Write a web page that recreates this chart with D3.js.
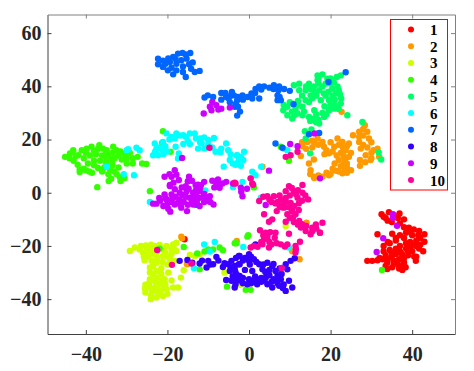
<!DOCTYPE html>
<html><head><meta charset="utf-8">
<script src="https://cdnjs.cloudflare.com/ajax/libs/d3/7.8.5/d3.min.js"></script>
<style>html,body{margin:0;background:#fff}svg{display:block}text{font-family:"Liberation Serif",serif;font-weight:bold}</style>
</head><body><svg id="c" width="474" height="371"></svg>
<script>
const xTicks=[-40,-20,0,20,40];
const yTicks=[-40,-20,0,20,40,60];
const labels=["1","2","3","4","5","6","7","8","9","10"];
const colors=["#ff0000","#ff9900","#ccff00","#33ff00","#00ff66","#00ffff","#0066ff","#3300ff","#cc00ff","#ff0099"];
const c1=[[29,-25.6],[30.2,-25.6],[31.5,-25.4],[32.7,-25],[33.9,-26.2],[35.1,-28],[33.9,-28.7],[35.5,-26.2],[37.6,-29],[38.4,-28],[38,-26.2],[36.8,-25],[40.9,-25.6],[41,-24],[42.7,-22],[41.7,-21],[43,-18.4],[43,-15.6],[41.7,-14.4],[40.4,-13.8],[39.2,-13.1],[38,-10],[36.9,-7.8],[34.3,-7.3],[32.5,-8.1],[31.5,-15.6],[35.1,-15.4],[33.5,-9.5],[35,-11],[37,-11.5],[34,-10.5],[38.5,-15],[38,-17],[40,-16],[41,-18],[39.5,-18.5],[42,-17],[41,-20],[40,-22],[38.5,-21],[37,-20],[36,-18],[34,-18.5],[33,-20],[33,-22],[34.5,-21.5],[36,-23],[37.5,-23],[39,-23.5],[35,-24],[33.5,-23.5],[32,-24.5],[36.5,-27],[38,-24.5],[34.5,-19],[37,-16],[39.5,-20.5],[-15.8,-17.5],[17.4,-15],[39.5,-14.5],[41.5,-16],[40.5,-19.5],[38.5,-19],[37,-22],[35,-22.5],[36,-21],[34,-25],[35.5,-25.5],[37.5,-27.5],[36.5,-9.5],[35.5,-8.5],[33,-9],[36,-17],[38,-13],[42,-19.5],[39,-22],[40.5,-24],[33.5,-27.5],[36.8,-28.5]];
const c2=[[13.1,17.5],[14.3,19.1],[15.5,19.6],[16.8,20.4],[18,19.1],[18.4,17.3],[19,16],[19.6,14.8],[20.9,17.3],[21.7,20.4],[22.9,19.1],[24.5,18.5],[23.7,16],[24.5,13.5],[23.3,11],[25,8.5],[22.9,7.3],[21.3,8.3],[19.6,6.6],[18,6],[15.9,6],[15.1,8.5],[14.7,11],[15.9,12.5],[22,12.3],[23.3,13.5],[25.5,21.6],[27,22.9],[28.4,25.4],[29,22.9],[29.4,20.4],[27,19.1],[27.4,16.6],[28.6,14.1],[29.8,12.3],[31.5,16.6],[31.9,13.5],[27.2,12.3],[27.2,10.1],[12.7,13.8],[22.7,30.4],[3.3,9.8],[23,17],[22.5,15],[24,11],[21,11],[20.5,9],[23.5,9],[30,15],[28,18],[15.5,17],[17,18],[14.1,-11.3],[12.4,-25],[-3,-18.1],[-16.4,-17.1],[-16.6,-16.5],[-15.2,-26.9],[10.6,-22],[15,7],[17,6.5],[16,5.5],[19,7.5],[20,7],[22,8],[24,7.5],[24,9.5],[22.5,10],[23.5,12.5],[25,15],[24,17.5],[22,18],[20,19],[20.5,15.5],[21.5,14],[23,14.5],[27,21],[28,21.5],[28,24],[30,19],[29,17],[30,13],[28.5,11.5],[30.5,16],[14,16.5],[16,18.5],[13,19],[18.5,14.5]];
const c3=[[-29.2,-21.9],[-28,-20.6],[-26.8,-21.3],[-25.3,-19.8],[-26,-22.5],[-25.6,-25.4],[-23.9,-21.3],[-22.7,-23.1],[-23.1,-20],[-21.9,-19.6],[-20.2,-20],[-18.6,-19.4],[-17.8,-18.8],[-19,-21.3],[-17.8,-21.9],[-21.1,-23.8],[-19.4,-25],[-18.2,-25.6],[-21.5,-28.4],[-24.3,-28.1],[-24.3,-30],[-19.8,-30],[-20.7,-32.5],[-22.7,-31.9],[-24.3,-32.5],[-25.4,-34.6],[-24.3,-35.6],[-25.4,-37.5],[-24.1,-40],[-22.7,-39.4],[-21.1,-38.8],[-20.2,-36.3],[-18.6,-35.6],[-17.4,-35.6],[-16.7,-31.9],[-16,-29.1],[-23,-35.5],[-21.8,-37],[-23,-33.5],[-21.8,-34],[-24,-38.5],[-22.7,-37],[-24.7,-23.8],[-23.9,-25.6],[-22.7,-26.3],[-24.7,-22],[-20.5,-22.5],[-21.5,-33],[-20.5,-34.5],[-23.5,-30.5],[-14.5,-23.4],[-13.3,-23.8],[-12.1,-23.1],[-6,-30],[-2.2,-34.6],[9,-12.5],[-25,-21],[-25.8,-24],[-23.5,-23],[-22.5,-21.5],[-21,-21.5],[-20,-24],[-19,-23],[-22.5,-24.8],[-21.2,-26],[-20,-27],[-22.7,-29.5],[-21.5,-30.5],[-23.5,-27.5],[-24.5,-34],[-23.8,-36.8],[-22.5,-35],[-21,-35.8],[-20,-38],[-25.5,-36],[-22.2,-38.2],[-19,-33],[-18.5,-20.5],[-24,-19.5],[-26.5,-20]];
const c4=[[-45.1,13.5],[-43.9,14.8],[-43.1,16],[-41.9,14.1],[-41,16],[-39.8,16.6],[-38.6,17.3],[-36.7,17.9],[-35.8,16.6],[-34.9,16],[-33.3,17.3],[-32.5,16],[-31.5,15.5],[-30.5,14.5],[-29.2,15],[-28.5,13],[-27.3,13.5],[-28.5,11],[-26.2,11],[-25.2,10.8],[-30,11],[-31.2,12.5],[-33,13],[-34.5,13.5],[-36,14],[-37.5,14.5],[-39,14],[-40.5,13],[-43,12],[-42,10.5],[-41.5,8.8],[-41.5,7.8],[-40,8.5],[-38.5,7.5],[-37,9.3],[-35.5,9.5],[-33.5,10.3],[-32,9.5],[-33,8],[-34.5,7],[-33.8,5.3],[-31.7,6],[-30.5,5.5],[-33.5,12],[-36.5,12],[-38,12],[-39.5,11],[-38,10.3],[-35,11.3],[-37.2,2.1],[-24.3,.6],[-34.4,4.4],[-31.5,4.4],[-21.9,-21],[-16,-20.4],[-12.7,-22.8],[-12.1,-28.8],[-10.9,-22.1],[-10,-21.3],[-8.8,-21.3],[-7.2,-20.6],[-6.4,-21.6],[-3.5,-19],[-5.4,-35.3],[-.8,-36.5],[.4,-36.5],[-.2,-16],[-.4,-16.5],[-3.1,-19],[32.6,-29],[9.8,12],[7.8,17.3],[1.2,2],[-21.1,23.1],[-21.3,18.8],[-19.2,15.4],[-44,13],[-42.5,13.8],[-40,15],[-38,15.8],[-37,16.5],[-35,15],[-33.5,15],[-32,14],[-30,13],[-40.5,9],[-39.2,8],[-36,8],[-34,8.5],[-32.5,7],[-35,12.5]];
const c5=[[8.4,31],[9.4,29.1],[10.6,27.9],[11.9,29.8],[13.1,29.1],[14.7,28.5],[15.9,27.9],[17.2,26],[16.4,26.6],[18.4,28.5],[19.6,31],[20.9,31.6],[22.5,33.5],[22.6,35.4],[21.3,37.3],[20.4,39.1],[18.8,41],[16.8,44.1],[18,44.5],[19.2,42.9],[22.5,44.1],[21.7,40],[15.9,40],[14.7,41],[12.3,41],[11,40.4],[12.3,38.5],[13.9,38.5],[15.1,36.6],[13.9,34.8],[14.7,34.1],[13.1,32.3],[11.4,31.6],[9.4,32.3],[17.6,34.8],[19.6,34.8],[18.4,37.3],[17.2,38.5],[24.1,29.1],[27.8,26.6],[13.7,23.1],[15.3,23.8],[13.9,20.4],[15,14.8],[31.8,15.1],[32.4,12.5],[16.8,42.3],[20,43],[19.5,38],[21,35],[20,33],[18,30],[16.5,29.5],[12,33],[8.5,33],[10.5,30.5],[14,40],[16.5,36.5],[22,38.5],[21.5,43.5],[15,27],[17,27.5],[19,29.5],[21,33],[20.5,36.5],[18,40],[17,41],[20,41],[13,36.5],[10,34],[15.5,35.5],[17,43],[18.8,36.5],[16,38],[12,34.5],[11,29],[13.5,30.5],[16,31],[22,31.5],[18.5,32.5],[15,39],[20.8,41.5],[22.3,37]];
const c6=[[-23.1,18.5],[-22.7,16.5],[-23.5,14.1],[-22.3,14.1],[-21.1,19.1],[-20.2,22.3],[-19,21],[-17.8,22.3],[-18.2,20.4],[-16.1,21.6],[-14.5,22.3],[-13.3,22.3],[-12,20.4],[-10,19.8],[-8.6,20.6],[-11.6,18.5],[-12.5,16.6],[-10.9,16.6],[-8.2,15.4],[-6.8,16.6],[-5.6,18.5],[-5.1,16],[-4.7,12.3],[-3,14],[-3,11],[-1.4,12.3],[-6.2,9.8],[-16.1,18.3],[-14.5,18.3],[-18,17.3],[-17.2,14.8],[-17.4,12.9],[-21.1,16],[-34.9,9.8],[-30.7,7],[-28.2,6.6],[-29.6,16.4],[-27.6,16.9],[-26.8,16],[-30,16],[-2.9,14.1],[-1.2,15.4],[-2.5,12.3],[-3.3,10.5],[-2,10.1],[3,9.8],[.8,7.9],[1.6,6.6],[.4,5.4],[-1.6,4.1],[9.4,16],[8.5,16.6],[-24.3,-3.5],[-11,-19.4],[-8.4,-18.5],[-9.6,-22.1],[-13.5,-28.4],[-1.4,-20.4],[6.5,-18.8],[9.8,-20.6],[2.9,-1.9],[-10.7,.9],[-3.9,2.1],[-22,17],[-21,14.5],[-20,15.5],[-19.5,20],[-15,19.5],[-13,20.5],[-11,20.8],[-10,18],[-12,19],[-9,17],[-7,15.2],[-4.5,14.5],[-4,11],[-2,13.5],[-15.5,21],[-17,21.5],[-23,15.5],[-20.5,17.5]];
const c7=[[-22.3,50.4],[-22.3,48.3],[-21.1,49.6],[-21.1,47.3],[-19.9,46],[-18.6,44.5],[-17.8,46],[-18.6,51],[-17.4,52.3],[-16.3,52.5],[-14.4,52.5],[-15.3,50.4],[-16.6,49.8],[-13.8,49],[-14.2,46.6],[-12.1,45.8],[-13.3,45.4],[-15.5,43.5],[-16.2,45.4],[-19.4,49.1],[-17.8,48.5],[-19.8,50.5],[-16.2,47.5],[-20.5,48.5],[-19,47],[-18,50.3],[-15.5,52],[-14.7,48.3],[-10.9,35.8],[-10.1,36.6],[-8.8,36],[-6.8,37.5],[-6.8,35],[-5.6,36],[-4.2,37.9],[-4.7,34],[-3.5,32.3],[-2.9,29],[-2.7,36],[-3.7,36.6],[-2.9,34.8],[-2.7,32.3],[-1.6,36.6],[-.4,36],[.6,37.3],[.8,35.4],[1.6,39],[2.5,40],[2.5,35.4],[3.7,40],[5,39.5],[6.1,40.4],[7.4,40],[8.6,39],[10,38.3],[7,36.6],[7,34.8],[7.8,34.8],[10.9,33.3],[19.5,41.6],[23.7,45.3],[14.7,22],[17.2,22.5],[6.5,18.5],[8.2,16.9],[-13,-4.5],[-5,35.5],[-3.2,33.5],[-2.2,30.5],[-1.5,35],[1.5,37.5],[3,38.8],[6,39],[7.2,38.5],[7.5,36],[-5.8,37.5],[-4.5,36.5]];
const c8=[[-17,-25.6],[-15.1,-25.3],[-13.9,-26.3],[-12.1,-26.6],[-10,-25.6],[-8,-24.1],[-10.4,-28.1],[-8.8,-26.9],[-6.4,-27.9],[-5.1,-26.9],[-4.3,-25.6],[-4.7,-29.4],[-5.6,-32.8],[-4.3,-33.1],[-3.5,-35.6],[-2.3,-23.8],[-2.3,-26.9],[-2.3,-31.3],[-3.3,-30],[-2.5,-23.8],[-2.5,-26.9],[-2.9,-31],[-3.3,-34.4],[0,-23.1],[1.2,-25],[0,-25.6],[2.5,-26.9],[4.5,-26.3],[5.7,-27.5],[6.5,-29.4],[3.3,-28.8],[.8,-29.4],[0,-32.5],[1.2,-33.1],[-.4,-34.4],[2,-34.4],[4.5,-34.4],[5.7,-35.6],[7.4,-35],[9,-36.9],[10.6,-35.6],[9.8,-33.1],[7.8,-32.5],[6,-32.5],[4.1,-31.9],[9,-26.9],[10.2,-25.6],[11.2,-24.6],[9.4,-28.8],[1.6,-19.4],[-1.5,-34],[3,-32],[7,-34],[-1,-24.5],[-2,-33],[-1.5,-25.5],[-3.5,-27.5],[-4,-31.5],[-3,-33],[1.5,-31.5],[3.5,-27],[5,-29],[5,-31],[3,-33.5],[5.5,-33.5],[8.5,-34.5],[8,-30.5],[-11.5,-25.5],[-9.5,-27],[-7.5,-25.5],[-6,-26.5],[-3.2,-24.5],[.5,-24],[7,-31],[1.8,-26],[4,-29.8],[6,-26.8],[2,-32.5],[.5,-34],[-1.5,-32],[-3.5,-28.8],[-4.5,-28],[3.8,-33],[6.5,-33],[8.3,-35.8],[-1,-29],[.2,-27],[7.5,-28.5]];
const c9=[[-18.2,8.5],[-20.7,6],[-19,6],[-17.2,4.8],[-19.4,2.9],[-14.7,6],[-15,4.3],[-13.1,2.9],[-11,4.1],[-7.6,5],[-5.6,4.1],[-7.3,2.9],[-3.9,3.5],[-9.6,32.3],[-8,32.9],[-6.8,31.6],[-11.1,29.8],[-9,34.1],[-4.7,32],[-16.4,13.1],[-19.4,2.5],[-18.2,1.3],[-20.7,-.6],[-19,-.6],[-17,0],[-15.3,.6],[-13.7,0],[-12.1,.6],[-22.7,-4.1],[-23.5,-4.1],[-21,-5],[-19.3,-7.1],[-18.2,-4.4],[-16.6,-5.6],[-15.2,-6.9],[-13.7,-4.4],[-12.1,-5],[-10.5,-3.1],[-8.7,-4.4],[-20.2,-2.5],[-17,-2.5],[-14.5,-1.9],[-12.1,-1.9],[-9.6,-1.3],[-7.2,1.9],[-8,3.4],[-16,-3.5],[-19,-3.5],[-14,-3],[-11,-3.5],[10.1,18.3],[11.9,17.5],[16.1,22.3],[17.4,5.4],[4.9,8.3],[-1.9,.4],[-2,1.9],[-1.6,-1.3],[-.5,1.5],[4.1,-4.6],[10.6,-6.3],[35.3,-8.1],[35.3,-9.4],[36.3,-12.4],[32.9,-17.1],[31.3,-22.3],[-9.2,31],[-7.5,31.3],[-19.5,7],[-17.8,6.8],[-18.5,3.8],[-16.5,2],[-15.5,2.5],[-12.5,3],[-12,1.8],[-20.5,-2],[-18,-1.5],[-15.5,-1.5],[-13,-1],[-11,-.5],[-21.8,-3],[-17.5,-3.8],[-15,-4.5],[-11,-1.5],[-6.5,3.5],[-8.5,2],[-22,-2],[-20,-4],[-18.8,-2.2],[-16.3,-.8],[-14.8,1.5],[-13.5,-2],[-12.8,-3.5],[-10.2,-1.8],[-9.5,-3.5],[-16.8,-4.5],[-19.8,-6],[-13,1],[-14,4.5],[-11.8,2.8],[-9,4.5]];
const c10=[[2.5,-3.1],[4.5,-1.3],[6.1,-1.3],[7.8,-2.5],[9.8,2.5],[9,.6],[11,.6],[13.1,2.9],[13.1,0],[14.5,-2.5],[11.9,-1.9],[10.2,-3.8],[8.6,-5.6],[9.4,-8.1],[11.4,-8.1],[12.3,-10.6],[9,-10.9],[6.8,-6.9],[3.7,-8.1],[5.7,-10],[4.9,-10.9],[12.7,-13.1],[13.9,-14.4],[15.1,-15.6],[16.4,-11.9],[18,-11.3],[17.4,-15],[15.5,-13.1],[9.8,-15.4],[2.7,-14.1],[4.1,-15],[6.5,-15],[6.3,-16.9],[3.7,-17.5],[3.3,-19.4],[4.9,-20.6],[.4,-20.6],[2.1,-20.3],[7.8,-19.4],[9.4,-19.4],[12.5,-18.4],[11.4,-20],[11.4,-22.5],[8,-28.3],[7,-3.5],[8,-5.5],[10,-1],[5.5,-3.5],[11,-5],[10,-9.5],[4.5,-17],[9,13.5],[10.2,14.1],[11.9,15.4],[.4,5.4],[.8,3.5],[-3.3,3.5],[1,3],[-9.7,16.9],[-3.5,3.8],[-22.5,-21.5],[-18.9,-27.1],[-14.1,-26.6],[3.5,-1.5],[6.5,-4],[9,-3.5],[11.5,-.5],[12.2,-6.5],[13,-3],[10.5,-7],[12,-12],[14,-12.5],[16.5,-13.5],[15.5,-14.5],[4.5,-16],[5,-18.5],[3.5,-16],[6.8,-19],[11.5,-21.2],[8.8,-20.2],[5,-2.5],[7.5,-1],[9,-2],[10.5,1.8],[12,1],[8.5,-3.8],[9.8,-5.5],[12.2,-4],[10.8,-9.2],[11,-11],[13,-11.8],[3,-18.5],[5.5,-19.5],[5.2,-14.8],[1.2,-20],[7.5,-5],[13.8,-1]];
const groups=[c1,c2,c3,c4,c5,c6,c7,c8,c9,c10];

const svg=d3.select("#c");
const L=47.5,R=455,T=14.5,B=334;
const x=d3.scaleLinear().domain([-49.4,50.5]).range([L,R]);
const y=d3.scaleLinear().domain([-53.1,67]).range([B,T]);
const ink="#404040",ink2="#808080";

const dots=svg.append("g");
groups.forEach((g,i)=>dots.append("g").selectAll("circle").data(g).join("circle")
  .attr("cx",d=>x(d[0])).attr("cy",d=>y(d[1])).attr("r",3.2).attr("fill",colors[i]));

function style(a,col,size){
  a.select(".domain").attr("stroke",col).attr("stroke-width",1);
  a.selectAll(".tick line").attr("stroke",col);
  a.selectAll(".tick text").attr("fill","#262626").style("font-size",size+"px");
}
const ax=svg.append("g").attr("transform",`translate(0,${B})`).call(d3.axisBottom(x).tickValues(xTicks).tickSize(-4).tickPadding(13).tickSizeOuter(0).tickFormat(d3.format("d")));
style(ax,ink,20);
const ay=svg.append("g").attr("transform",`translate(${L},0)`).call(d3.axisLeft(y).tickValues(yTicks).tickSize(-4).tickPadding(6).tickSizeOuter(0).tickFormat(d3.format("d")));
style(ay,ink,20);
const at=svg.append("g").attr("transform",`translate(0,${T})`).call(d3.axisTop(x).tickValues(xTicks).tickSize(-4).tickSizeOuter(0).tickFormat(""));
style(at,ink2,20);
const ar=svg.append("g").attr("transform",`translate(${R},0)`).call(d3.axisRight(y).tickValues(yTicks).tickSize(-4).tickSizeOuter(0).tickFormat(""));
style(ar,ink2,20);

const lg=svg.append("g");
lg.append("rect").attr("x",390.5).attr("y",19.5).attr("width",57).attr("height",170.5).attr("fill","#fff").attr("stroke","#ff0000").attr("stroke-width",1);
const ly=d3.scalePoint().domain(labels).range([29.5,180]);
labels.forEach((l,i)=>{
  lg.append("circle").attr("cx",411).attr("cy",ly(l)).attr("r",3).attr("fill",colors[i]);
  lg.append("text").attr("x",430).attr("y",ly(l)+5.5).attr("fill","#000").style("font-size","15px").text(l);
});
</script></body></html>
